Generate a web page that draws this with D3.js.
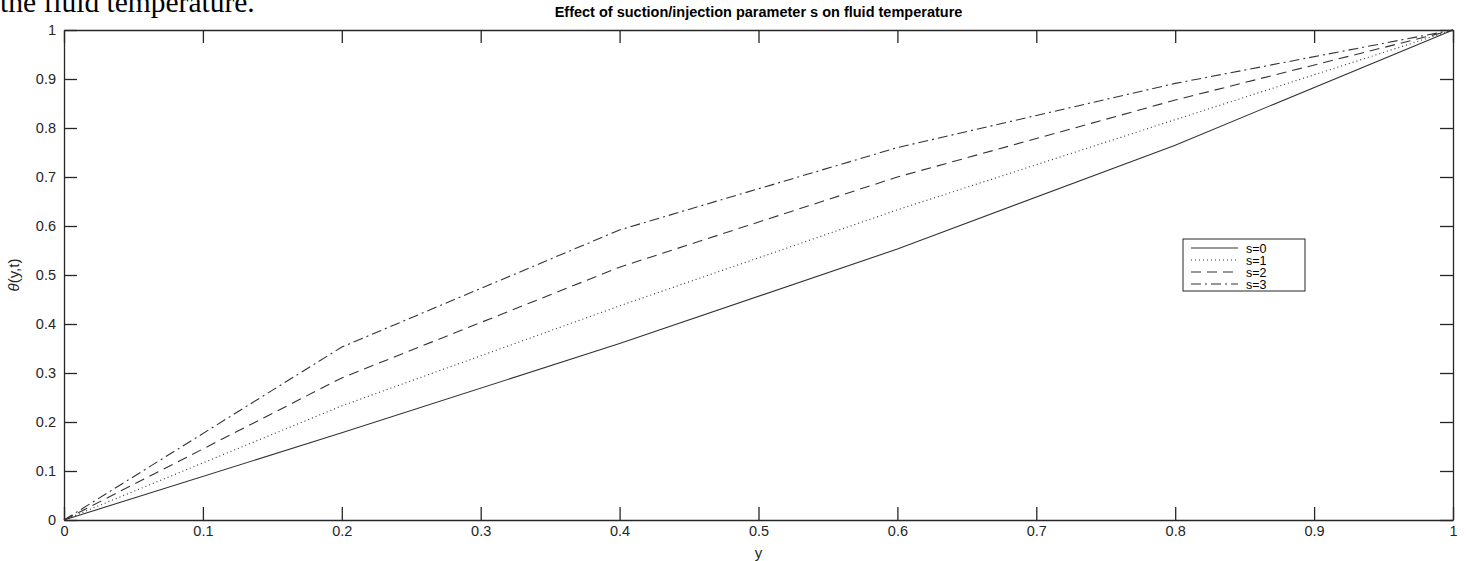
<!DOCTYPE html>
<meta charset="utf-8">
<html>
<head>
<script src="https://d3js.org/d3.v7.min.js"></script>
<style>
  body { margin: 0; background: #fff; }
  text { font-family: "Liberation Sans", Arial, sans-serif; }
</style>
</head>
<body>
<svg id="chart" width="1466" height="561"></svg>
</body>
</html>
<script>

// Data
var yPos = [0, 0.2, 0.4, 0.6, 0.8, 1];
var s0 = [0, 0.178, 0.36, 0.553, 0.765, 1];
var s1 = [0, 0.233, 0.437, 0.633, 0.817, 1];
var s2 = [0, 0.29, 0.516, 0.70, 0.857, 1];
var s3 = [0, 0.353, 0.592, 0.76, 0.891, 1];
var seriesNames = ["s=0", "s=1", "s=2", "s=3"];
var dashes = [null, "1,3", "10,6", "10,4,2,4"];
var xTicks = [0, 0.1, 0.2, 0.3, 0.4, 0.5, 0.6, 0.7, 0.8, 0.9, 1];
var yTicks = [0, 0.1, 0.2, 0.3, 0.4, 0.5, 0.6, 0.7, 0.8, 0.9, 1];

var svg = d3.select("#chart");
var ink = "#262626";

// caption from the surrounding document, cut at the top
svg.append("text")
  .attr("x", 0).attr("y", 12)
  .style("font-family", "'Liberation Serif', 'Times New Roman', serif")
  .style("font-size", "29.5px")
  .attr("fill", "#000")
  .text("the fluid temperature.");

var mLeft = 64, mRight = 1453, mTop = 30, mBottom = 520;
var x = d3.scaleLinear().domain([0, 1]).range([mLeft, mRight]);
var y = d3.scaleLinear().domain([0, 1]).range([mBottom, mTop]);
var tickLen = 13;

// axes (inward ticks, box on)
var fmt = function(d) { return d === 0 || d === 1 ? String(d) : d3.format(".1f")(d); };

var gx = svg.append("g").attr("transform", "translate(0," + mBottom + ")")
  .call(d3.axisBottom(x).tickValues(xTicks).tickFormat(fmt).tickSizeInner(-tickLen).tickSizeOuter(0).tickPadding(6));
var gxt = svg.append("g").attr("transform", "translate(0," + mTop + ")")
  .call(d3.axisTop(x).tickValues(xTicks).tickFormat("").tickSizeInner(-tickLen).tickSizeOuter(0));
var gy = svg.append("g").attr("transform", "translate(" + mLeft + ",0)")
  .call(d3.axisLeft(y).tickValues(yTicks).tickFormat(fmt).tickSizeInner(-tickLen).tickSizeOuter(0).tickPadding(8));
var gyr = svg.append("g").attr("transform", "translate(" + mRight + ",0)")
  .call(d3.axisRight(y).tickValues(yTicks).tickFormat("").tickSizeInner(-tickLen).tickSizeOuter(0));

[gx, gxt, gy, gyr].forEach(function(g) {
  g.selectAll("path").attr("stroke", ink).attr("stroke-width", 1.3);
  g.selectAll("line").attr("stroke", ink).attr("stroke-width", 1.3);
  g.selectAll("text").attr("fill", ink).style("font-size", "14.5px")
    .style("font-family", "'Liberation Sans', Arial, sans-serif");
});

// lines
var series = [s0, s1, s2, s3];
var line = d3.line()
  .x(function(d, i) { return x(yPos[i]); })
  .y(function(d) { return y(d); });

svg.append("g").selectAll("path")
  .data(series)
  .enter()
  .append("path")
    .attr("d", line)
    .attr("fill", "none")
    .attr("stroke", "#333")
    .attr("stroke-width", 1.1)
    .attr("stroke-dasharray", function(d, i) { return dashes[i]; });

// title and axis labels
svg.append("text")
  .attr("x", (mLeft + mRight) / 2).attr("y", 17)
  .attr("text-anchor", "middle")
  .style("font-size", "14.5px").style("font-weight", "bold")
  .attr("fill", "#000")
  .text("Effect of suction/injection parameter s on fluid temperature");

svg.append("text")
  .attr("x", (mLeft + mRight) / 2).attr("y", 558)
  .attr("text-anchor", "middle")
  .style("font-size", "15px")
  .attr("fill", ink)
  .text("y");

svg.append("text")
  .attr("transform", "translate(19," + ((mTop + mBottom) / 2) + ") rotate(-90)")
  .attr("text-anchor", "middle")
  .style("font-size", "15px")
  .attr("fill", ink)
  .html("<tspan font-style='italic'>θ</tspan>(y,t)");

// legend
var lg = svg.append("g").attr("transform", "translate(1183,239)");
lg.append("rect")
  .attr("width", 122).attr("height", 52)
  .attr("fill", "#fff").attr("stroke", ink).attr("stroke-width", 1);

var rows = lg.selectAll("g.row")
  .data(seriesNames)
  .enter()
  .append("g")
    .attr("transform", function(d, i) { return "translate(0," + (9 + i * 12) + ")"; });

rows.append("line")
  .attr("x1", 8).attr("x2", 55)
  .attr("stroke", "#333").attr("stroke-width", 1.1)
  .attr("stroke-dasharray", function(d, i) { return dashes[i]; });

rows.append("text")
  .attr("x", 63).attr("y", 4.5)
  .style("font-size", "12.5px")
  .attr("fill", "#000")
  .text(function(d) { return d; });

</script>
